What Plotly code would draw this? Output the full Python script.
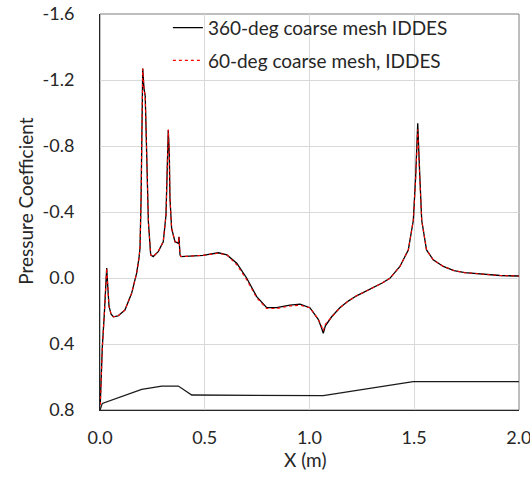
import plotly.graph_objects as go

# Surface pressure coefficient along X, 360-deg coarse mesh IDDES
x_360 = [0.0015, 0.011, 0.021, 0.026, 0.032, 0.038, 0.043, 0.053, 0.064, 0.086,
         0.119, 0.151, 0.175, 0.186, 0.191, 0.196, 0.199, 0.204, 0.210, 0.216,
         0.223, 0.231, 0.242, 0.254, 0.278, 0.302, 0.315, 0.321, 0.326, 0.331,
         0.334, 0.342, 0.358, 0.374, 0.377, 0.382, 0.387, 0.492, 0.565, 0.606,
         0.653, 0.700, 0.748, 0.796, 0.843, 0.907, 0.955, 1.002, 1.042, 1.057,
         1.066, 1.076, 1.106, 1.145, 1.185, 1.225, 1.265, 1.305, 1.345, 1.384,
         1.432, 1.472, 1.496, 1.507, 1.517, 1.527, 1.536, 1.559, 1.591, 1.639,
         1.690, 1.742, 1.822, 1.910, 2.0]
cp_360 = [0.76, 0.42, 0.21, 0.07, -0.06, 0.07, 0.17, 0.22, 0.235, 0.23,
          0.194, 0.093, -0.03, -0.12, -0.18, -0.47, -0.745, -1.27, -1.15, -1.10,
          -0.745, -0.34, -0.14, -0.13, -0.16, -0.22, -0.38, -0.745, -0.897, -0.745,
          -0.483, -0.30, -0.22, -0.21, -0.25, -0.14, -0.13, -0.137, -0.153, -0.14,
          -0.09, 0.0, 0.113, 0.18, 0.18, 0.164, 0.158, 0.18, 0.25, 0.30,
          0.335, 0.29, 0.235, 0.18, 0.14, 0.108, 0.083, 0.058, 0.032, 0.002,
          -0.07, -0.17, -0.35, -0.614, -0.937, -0.614, -0.35, -0.17, -0.11, -0.07,
          -0.045, -0.032, -0.022, -0.015, -0.012]

# Same quantity, 60-deg coarse mesh IDDES
x_60 = [0.0015, 0.011, 0.021, 0.026, 0.032, 0.038, 0.043, 0.053, 0.064, 0.086,
        0.119, 0.151, 0.175, 0.186, 0.191, 0.196, 0.199, 0.204, 0.210, 0.216,
        0.223, 0.231, 0.242, 0.254, 0.278, 0.302, 0.315, 0.321, 0.326, 0.331,
        0.334, 0.342, 0.358, 0.374, 0.377, 0.382, 0.387, 0.492, 0.565, 0.606,
        0.653, 0.700, 0.748, 0.796, 0.843, 0.907, 0.955, 1.002, 1.042, 1.057,
        1.066, 1.076, 1.106, 1.145, 1.185, 1.225, 1.265, 1.305, 1.345, 1.384,
        1.432, 1.472, 1.496, 1.507, 1.517, 1.527, 1.536, 1.559, 1.591, 1.639,
        1.690, 1.742, 1.822, 1.910, 2.0]
cp_60 = [0.77, 0.43, 0.21, 0.07, -0.06, 0.07, 0.17, 0.22, 0.235, 0.23,
         0.194, 0.093, -0.03, -0.12, -0.18, -0.47, -0.745, -1.27, -1.15, -1.10,
         -0.745, -0.34, -0.14, -0.13, -0.16, -0.22, -0.38, -0.745, -0.90, -0.745,
         -0.483, -0.30, -0.22, -0.21, -0.25, -0.14, -0.13, -0.137, -0.150, -0.14,
         -0.08, 0.01, 0.12, 0.185, 0.185, 0.17, 0.165, 0.18, 0.25, 0.29,
         0.32, 0.28, 0.235, 0.18, 0.14, 0.108, 0.083, 0.058, 0.032, 0.002,
         -0.07, -0.17, -0.35, -0.60, -0.90, -0.60, -0.35, -0.17, -0.11, -0.07,
         -0.045, -0.032, -0.022, -0.015, -0.012]

# Body profile drawn along the bottom of the chart
x_geom = [0.0, 0.011, 0.199, 0.295, 0.374, 0.438, 1.066, 1.495, 2.0]
y_geom = [0.80, 0.76, 0.675, 0.655, 0.655, 0.709, 0.713, 0.628, 0.628]

x_ticks = [0.0, 0.5, 1.0, 1.5, 2.0]
x_tick_text = ["0.0", "0.5", "1.0", "1.5", "2.0"]
y_ticks = [-1.6, -1.2, -0.8, -0.4, 0.0, 0.4, 0.8]
y_tick_text = ["-1.6", "-1.2", "-0.8", "-0.4", "0.0", "0.4", "0.8"]

FONT = "Lato"
TXT = "#262626"

fig = go.Figure()
fig.add_trace(go.Scatter(
    x=x_geom, y=y_geom, mode="lines", showlegend=False,
    line=dict(color="#1a1a1a", width=1.3), hoverinfo="skip", cliponaxis=False))
fig.add_trace(go.Scatter(
    x=x_360, y=cp_360, mode="lines", name="360-deg coarse mesh IDDES",
    legendgroup="a", line=dict(color="#000000", width=1.3)))
fig.add_trace(go.Scatter(
    x=x_60, y=cp_60, mode="lines", name="60-deg coarse mesh, IDDES",
    legendgroup="b", line=dict(color="#ff0000", width=1.1, dash="dot")))

axis_common = dict(
    showgrid=True, gridcolor="#d9d9d9", gridwidth=1,
    zeroline=False, showline=True, linecolor="#262626", linewidth=1,
    ticks="", tickfont=dict(family=FONT, size=18, color=TXT),
    ticklabeloverflow="allow", automargin=False,
)

fig.update_xaxes(range=[0, 2.0005], tickvals=x_ticks, ticktext=x_tick_text,
                 ticklabelstandoff=11, **axis_common)
fig.update_yaxes(range=[0.8, -1.6], tickvals=y_ticks, ticktext=y_tick_text,
                 ticklabelstandoff=21, **axis_common)

fig.update_layout(
    width=530, height=477,
    margin=dict(l=100, r=11, t=14, b=67, autoexpand=False),
    paper_bgcolor="white", plot_bgcolor="white",
    font=dict(family=FONT, color=TXT),
    showlegend=True,
    legend=dict(
        x=0.162, y=1.013, xanchor="left", yanchor="top",
        bgcolor="rgba(0,0,0,0)", borderwidth=0,
        font=dict(family=FONT, size=19, color=TXT),
        traceorder="grouped", tracegroupgap=5,
    ),
    shapes=[dict(type="rect", xref="paper", yref="paper", x0=0, y0=0, x1=1, y1=1,
                 line=dict(color="#7f7f7f", width=1), layer="below")],
    annotations=[
        dict(text="X (m)", xref="paper", yref="paper", x=0.49, y=-0.124,
             xanchor="center", yanchor="middle", showarrow=False,
             font=dict(family=FONT, size=19, color=TXT)),
        dict(text="Pressure Coefficient", xref="paper", yref="paper",
             x=-0.178, y=0.527, xanchor="center", yanchor="middle",
             textangle=-90, showarrow=False,
             font=dict(family=FONT, size=19, color=TXT)),
    ],
)

fig.write_html("out.html")
